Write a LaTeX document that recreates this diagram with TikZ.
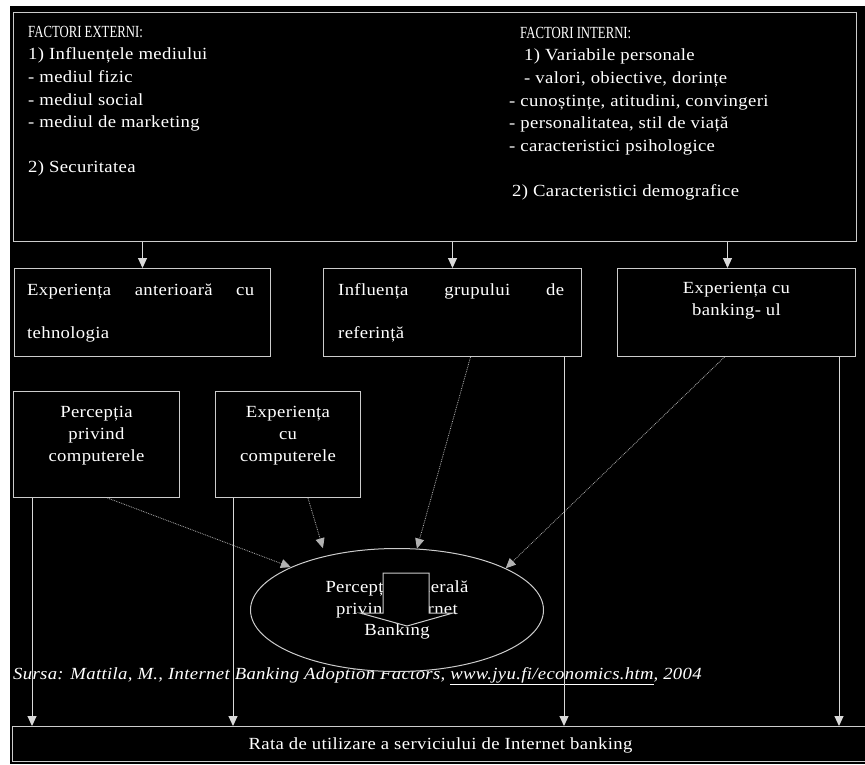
\documentclass[tikz,border=0pt]{standalone}
\usepackage{fontspec}
\setmainfont{Liberation Serif}[FakeStretch=1.1,LetterSpace=2]
\newfontfamily\headfont{Liberation Serif}[FakeStretch=0.75]
\usetikzlibrary{arrows.meta,shapes.geometric}
\newcommand{\lnstrut}{\rule{0pt}{13pt}}

\begin{document}
\begin{tikzpicture}[x=1pt,y=-1pt,
    box/.style={draw=white!80!black,line width=1pt,fill=black,inner sep=0pt},
    txt/.style={text=white,inner sep=0pt,font=\fontsize{17}{22.6}\selectfont},
    arr/.style={draw=white!85!black,line width=1pt,-{Triangle[width=9pt,length=10pt]}},
    dotarr/.style={draw=white!70!black,line width=0.8pt,densely dotted,-{Triangle[width=9pt,length=10pt]}}
  ]
  \useasboundingbox (0,0) rectangle (865,764);
  \fill[white] (0,0) rectangle (865,764);
  \fill[black] (10,6) rectangle (865,764);
  \node[txt,anchor=base west] (src) at (13,679) {\itshape Sursa: Mattila, M., Internet Banking Adoption Factors, \underline{www.jyu.fi/economics.htm}, 2004};
  \node[box,ellipse,minimum width=293pt,minimum height=123pt,txt,align=center,font=\fontsize{17}{21.5}\selectfont] (gen) at (397,610) {Percepția generală\\privind Internet\\Banking};
  \draw[draw=white!80!black,line width=1pt,fill=black] (383,573) -- (429,573) -- (429,613) -- (453,613) -- (407,626) -- (360,613) -- (383,613) -- cycle;

  \node[box,anchor=north west,minimum width=843pt,minimum height=229pt] (factori) at (13,12) {};
  \node[txt,anchor=north west,align=left] (extern) at ([xshift=15pt,yshift=-12pt]factori.north west) {\lnstrut{\headfont FACTORI EXTERNI:}\\1) Influențele mediului\\- mediul fizic\\- mediul social\\- mediul de marketing\\[22.6pt]2) Securitatea};
  \node[txt,anchor=north west,align=left] (intern) at ([xshift=496pt,yshift=-13pt]factori.north west) {\lnstrut\hspace*{11pt}{\headfont FACTORI INTERNI:}\\\hspace*{15pt}1) Variabile personale\\\hspace*{15pt}- valori, obiective, dorințe\\- cunoștințe, atitudini, convingeri\\- personalitatea, stil de viață\\- caracteristici psihologice\\[22.6pt]\hspace*{3pt}2) Caracteristici demografice};

  \node[box,anchor=north west,minimum width=256pt,minimum height=88pt] (tech) at (14,268) {};
  \node[box,anchor=north west,minimum width=258pt,minimum height=88pt] (grup) at (323,268) {};
  \node[box,anchor=north west,minimum width=238pt,minimum height=88pt] (bank) at (617,268) {};
  \node[box,anchor=north west,minimum width=166pt,minimum height=106pt] (percomp) at (13,391) {};
  \node[box,anchor=north west,minimum width=145pt,minimum height=106pt] (expcomp) at (215,391) {};
  \node[box,anchor=north west,minimum width=856pt,minimum height=35pt,txt,text depth=0pt] (rate) at (12,726) {Rata de utilizare a serviciului de Internet banking};

  \node[txt,anchor=north west,align=left,font=\fontsize{17}{43}\selectfont] (techt) at ([xshift=13pt,yshift=-14pt]tech.north west) {\lnstrut\makebox[227pt][s]{Experiența anterioară cu}\\tehnologia};
  \node[txt,anchor=north west,align=left,font=\fontsize{17}{43}\selectfont] (grupt) at ([xshift=15pt,yshift=-14pt]grup.north west) {\lnstrut\makebox[226pt][s]{Influența grupului de}\\referință};
  \node[txt,anchor=north,align=center,font=\fontsize{17}{22}\selectfont] (bankt) at ([yshift=-12pt]bank.north) {\lnstrut Experiența cu\\banking- ul};
  \node[txt,anchor=north,align=center,font=\fontsize{17}{22}\selectfont] (percompt) at ([yshift=-13pt]percomp.north) {\lnstrut Percepția\\privind\\computerele};
  \node[txt,anchor=north,align=center,font=\fontsize{17}{22}\selectfont] (expcompt) at ([yshift=-13pt]expcomp.north) {\lnstrut Experiența\\cu\\computerele};

  \coordinate (bk) at ([xshift=-9pt]bank.north);
  \draw[arr] (tech.north |- factori.south) -- (tech.north);
  \draw[arr] (grup.north |- factori.south) -- (grup.north);
  \draw[arr] (bk |- factori.south) -- (bk);

  \coordinate (pc) at ([xshift=19pt]percomp.south west);
  \coordinate (ec) at ([xshift=18pt]expcomp.south west);
  \coordinate (gr) at ([xshift=-18pt]grup.south east);
  \coordinate (bs) at ([xshift=-17pt]bank.south east);
  \foreach \c in {pc,ec,gr,bs}
    \draw[arr] (\c) -- (\c |- rate.north);

  \draw[dotarr] ([xshift=11pt]percomp.south) -- (gen.158);
  \draw[dotarr,shorten >=8pt] ([xshift=20pt]expcomp.south) -- (gen.143);
  \draw[dotarr] ([xshift=18pt]grup.south) -- (gen.72);
  \draw[dotarr] ([xshift=-12pt]bank.south) -- (gen.21);
\end{tikzpicture}
\end{document}
